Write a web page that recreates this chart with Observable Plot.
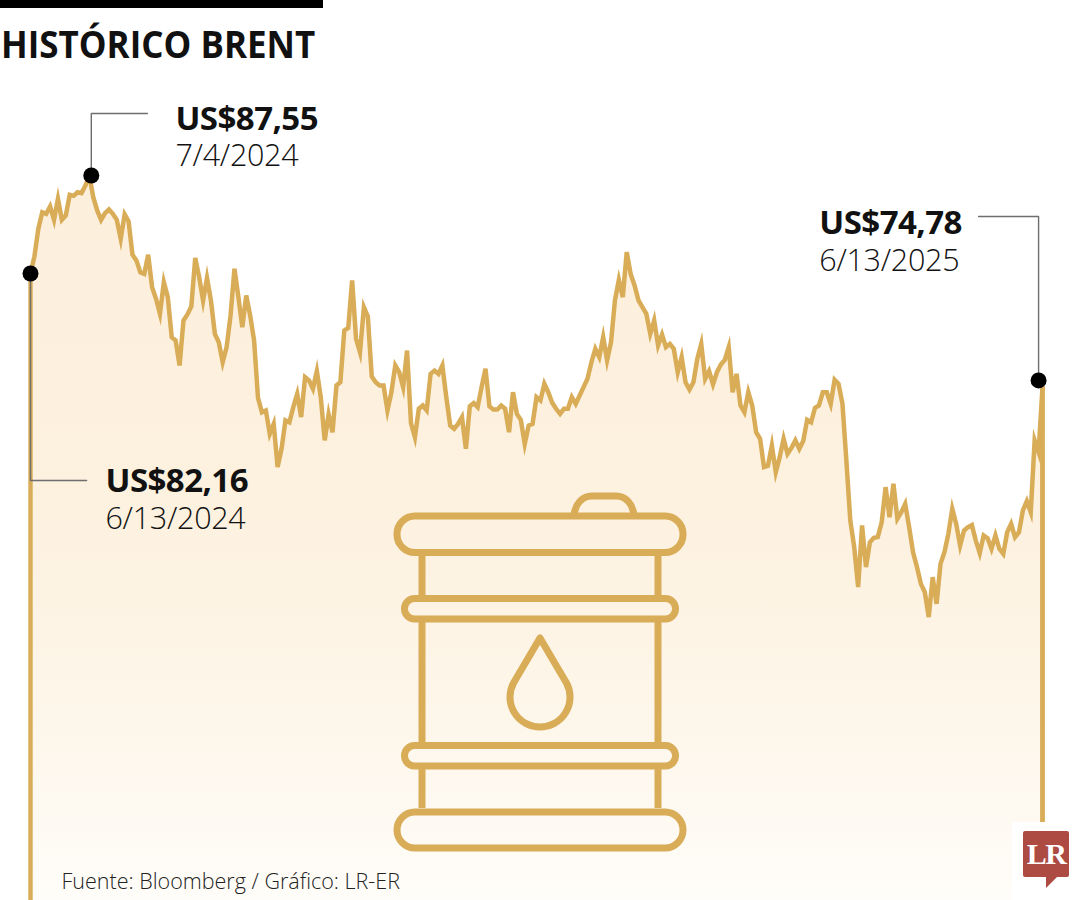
<!DOCTYPE html>
<html lang="es">
<head>
<meta charset="utf-8">
<script src="https://cdn.jsdelivr.net/npm/d3@7"></script>
<script src="https://cdn.jsdelivr.net/npm/@observablehq/plot@0.6"></script>
<style>
html,body{margin:0;padding:0;background:#fff;}
#head{position:relative;width:1080px;height:70px;overflow:hidden;}
#bar{position:absolute;left:0;top:0;width:323px;height:8px;background:#000;}
#title{position:absolute;left:1px;top:19px;font:700 37.5px/50px "Open Sans",sans-serif;color:#111;white-space:nowrap;transform:scaleX(.932);transform-origin:0 0;margin:0;}
#chart svg{display:block;}
.cv text{letter-spacing:-.55px;}
.cd text{letter-spacing:-.3px;}
</style>
</head>
<body>
<div id="head"><div id="bar"></div><h1 id="title">HISTÓRICO BRENT</h1></div>
<div id="chart"></div>
<script>
// Brent, one value per session, 13 Jun 2024 to 13 Jun 2025
const prices = [
82.16,83.10,84.62,85.53,85.44,85.85,85.11,86.27,85.11,85.35,86.49,86.43,86.63,86.58,87.00,87.55,
86.36,85.63,85.11,85.48,85.68,85.44,85.11,84.07,85.41,85.04,83.19,82.88,82.23,82.14,83.19,81.41,
80.77,79.94,81.68,80.86,78.66,78.48,77.10,79.58,79.91,80.35,83.02,81.96,80.67,81.92,80.67,78.84,
78.38,77.28,78.11,79.85,82.42,80.86,79.21,80.95,79.85,78.48,75.32,74.53,74.63,73.34,73.89,71.51,
72.52,74.08,73.98,74.81,75.54,74.26,76.46,76.28,75.82,76.79,75.36,72.98,74.41,73.43,76.00,76.18,
79.03,79.17,81.78,78.57,77.83,80.31,79.80,76.49,76.18,76.00,76.00,74.63,75.63,77.10,76.73,75.91,
77.92,73.93,73.16,74.72,74.90,74.63,76.64,76.82,76.64,77.10,75.36,73.80,73.62,73.89,74.26,72.52,
74.86,75.03,74.81,75.91,76.92,74.85,74.68,74.68,74.90,74.72,73.43,75.63,74.44,74.11,72.79,73.80,
73.89,75.36,75.18,76.09,75.63,75.05,74.72,74.44,74.72,74.72,75.36,74.99,75.45,75.91,76.37,77.28,
78.02,77.56,78.66,77.38,78.38,80.68,81.81,80.86,83.33,82.14,81.50,80.68,80.31,79.94,78.84,79.58,
78.20,78.80,78.11,78.29,78.02,76.73,77.56,76.18,75.78,76.18,77.47,78.29,76.37,76.79,76.06,76.73,
77.16,77.41,78.11,75.63,76.64,74.90,74.53,75.63,74.90,73.43,73.07,71.51,71.58,72.70,71.23,72.06,
73.07,72.24,72.57,72.98,72.52,72.94,74.11,73.98,74.77,74.90,75.63,75.63,74.99,76.31,76.09,74.99,
71.87,68.57,67.11,64.91,68.30,66.01,67.38,67.62,67.66,68.48,70.41,68.76,70.59,68.67,69.03,69.49,
68.21,66.83,66.01,65.09,64.63,63.26,65.46,63.99,66.19,66.83,67.84,69.22,68.39,67.20,68.03,68.21,
68.32,67.47,66.78,67.75,67.60,67.02,67.75,67.02,66.74,67.93,68.39,67.66,67.93,69.13,69.64,69.03,
72.98,72.33,75.91
];
const sessions = prices.map((_, i) => i);

// Marked sessions: position on the curve
const markSession = [0, 15.5, 257];
const markPrice = [82.16, 87.55, 76.28];

// Callout texts, as printed
const calloutValue = ["US$82,16", "US$87,55", "US$74,78"];
const calloutDate = ["6/13/2024", "7/4/2024", "6/13/2025"];
const calloutSession = [19.12, 36.96, 201.1];
const calloutValueAt = [70.135, 90.06, 84.36];
const calloutDateAt = [68.12, 88.10, 82.325];

// Leader lines of the callouts
const leaderSession = [[0, 0, 14.3], [15.5, 15.5, 29.8], [257, 257, 241.7]];
const leaderPrice = [[82.16, 70.775, 70.775], [87.55, 90.96, 90.96], [76.28, 85.295, 85.295]];

const source = "Fuente: Bloomberg / Gráfico: LR-ER";
const floorPrice = 47.675, ceilPrice = 93.325;

const GOLD = "#d9ac57";
const FONT = '"Open Sans", sans-serif';

const series = prices.map((p, i) => ({s: sessions[i], p}));
const callouts = calloutValue.map((v, i) => ({v, d: calloutDate[i], s: calloutSession[i], yv: calloutValueAt[i], yd: calloutDateAt[i]}));
const marksAt = markSession.map((s, i) => ({s, p: markPrice[i]}));
const leaders = leaderSession.flatMap((l, k) => l.map((s, i) => ({k, s, p: leaderPrice[k][i]})));

function gradientDefs() {
  const defs = d3.create("svg:defs");
  const g = defs.append("linearGradient").attr("id", "brentFill").attr("x1", 0).attr("x2", 0).attr("y1", 0).attr("y2", 1);
  [[0, "#fcefdc"], [0.45, "#fdf1df"], [0.75, "#fdf6ea"], [1, "#fffdf9"]].forEach(([o, c]) =>
    g.append("stop").attr("offset", o).attr("stop-color", c));
  return defs.node();
}

// The barrel icon: decoration, in the plot's own pixels
function barrel() {
  const g = d3.create("svg:g").attr("fill", "none").attr("stroke", GOLD).attr("stroke-width", 7).attr("stroke-linejoin", "round").attr("transform", "translate(0,-70)");
  [[397, 516, 286, 36.5, 18], [404.5, 598.5, 271, 20.5, 10], [404.5, 745.5, 271, 20.5, 10], [397, 812, 286, 36, 18]].forEach(([x, y, w, h, r]) =>
    g.append("rect").attr("x", x).attr("y", y).attr("width", w).attr("height", h).attr("rx", r));
  ["M422 556V595", "M658 556V595", "M422 622V742", "M658 622V742", "M422 769V808", "M658 769V808",
   "M574 516C575 504 582 496 592 496H616C626 496 633 504 634 516",
   "M540 638L513.5 683A30 30 0 1 0 566.5 683Z"].forEach(d => g.append("path").attr("d", d));
  return g.node();
}

function logo() {
  const g = d3.create("svg:g").attr("transform", "translate(0,-70)");
  g.append("rect").attr("x", 1012).attr("y", 822).attr("width", 68).attr("height", 78).attr("fill", "#fff");
  g.append("path").attr("fill", "#ad4a41").attr("d", "M1025 831H1067a2 2 0 0 1 2 2V875a2 2 0 0 1 -2 2H1057L1046 888V877H1025a2 2 0 0 1 -2 -2V833a2 2 0 0 1 2 -2Z");
  g.append("text").attr("x", 1046).attr("y", 864).attr("text-anchor", "middle").attr("fill", "#fff")
    .attr("font-family", '"Liberation Serif", serif').attr("font-weight", 700).attr("font-size", 30).attr("letter-spacing", -1.5).text("LR");
  return g.node();
}

const chart = Plot.plot({
  width: 1080, height: 830,
  marginTop: 0, marginRight: 0, marginBottom: 0, marginLeft: 0,
  style: {background: "transparent", overflow: "visible"},
  x: {domain: [0, 258], range: [30, 1042], axis: null},
  y: {domain: [floorPrice, ceilPrice], axis: null},
  marks: [
    gradientDefs,
    Plot.areaY(series, {x: "s", y1: floorPrice, y2: "p", fill: "url(#brentFill)"}),
    barrel,
    Plot.ruleX([0], {x: d => d, y1: floorPrice, y2: prices[0], stroke: GOLD, strokeWidth: 4.4}),
    Plot.ruleX([258], {x: d => d, y1: floorPrice, y2: prices[258], stroke: GOLD, strokeWidth: 4.8}),
    Plot.line(series, {x: "s", y: "p", stroke: GOLD, strokeWidth: 4.5, strokeLinejoin: "miter", strokeMiterlimit: 6}),
    logo,
    Plot.line(leaders, {x: "s", y: "p", z: "k", stroke: "#6e6e6e", strokeWidth: 1.4, strokeLinejoin: "miter"}),
    Plot.dot(marksAt, {x: "s", y: "p", r: 8, fill: "#000", stroke: "none"}),
    Plot.text(callouts, {x: "s", y: "yv", text: "v", textAnchor: "start", lineAnchor: "bottom", fontFamily: FONT, fontWeight: 700, fontSize: 33, fill: "#111", className: "cv"}),
    Plot.text(callouts, {x: "s", y: "yd", text: "d", textAnchor: "start", lineAnchor: "bottom", fontFamily: FONT, fontWeight: 300, fontSize: 30.5, fill: "#111", className: "cd"}),
    Plot.text([source], {x: 7.9, y: 48.335, text: d => d, textAnchor: "start", lineAnchor: "bottom", fontFamily: FONT, fontWeight: 300, fontSize: 21.5, fill: "#222"})
  ]
});
document.getElementById("chart").append(chart);
</script>
</body>
</html>
